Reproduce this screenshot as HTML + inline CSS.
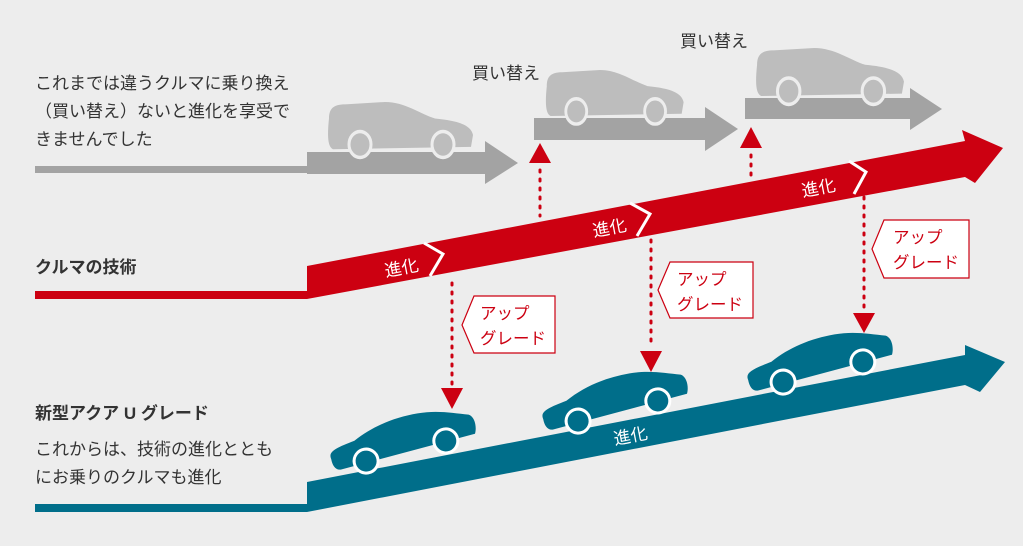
<!DOCTYPE html>
<html><head><meta charset="utf-8"><style>
html,body{margin:0;padding:0;background:#ededed;}
svg{display:block;font-family:"Liberation Sans","Noto Sans CJK JP",sans-serif;}
</style></head><body>
<svg width="1023" height="546" viewBox="0 0 1023 546" xmlns="http://www.w3.org/2000/svg">
<defs>
<g id="car">
<path d="M2,36 C0,28 8,26 28,22 C48,11 70,6 95,6 C115,6 130,12 145,16 C151,19 151,30 148,36 L10,48 C4,48 2,42 2,36 Z"/>
<circle cx="36" cy="44" r="12" stroke="#fff" stroke-width="3"/>
<circle cx="118" cy="38" r="12" stroke="#fff" stroke-width="3"/>
</g>
<g id="gcar">
<path d="M4,14 C4,6 8,2 20,2 L60,0 C80,0 95,10 110,14 C135,16 146,20 148,28 L146,38 L8,40 C3,38 2,30 4,14 Z"/>
<circle cx="35" cy="36" r="11" stroke="#ededed" stroke-width="3"/>
<circle cx="118" cy="36" r="11" stroke="#ededed" stroke-width="3"/>
</g>
</defs>
<rect width="1023" height="546" fill="#ededed"/>

<rect x="35" y="166" width="272" height="7" fill="#a3a3a3"/>
<g fill="#a3a3a3">
<polygon points="307,152 485,152 485,141 518,163 485,184 485,174 307,174"/>
<polygon points="534,118 705,118 705,107 738,129 705,151 705,140 534,140"/>
<polygon points="745,98 910,98 910,88 942,109 910,130 910,119 745,119"/>
</g>
<g fill="#bdbdbd">
<use href="#gcar" transform="translate(325,102) scale(1,1.18)"/>
<use href="#gcar" transform="translate(543,70) scale(0.95,1.15)"/>
<use href="#gcar" transform="translate(753,48) scale(1.02,1.2)"/>
</g>

<rect x="35" y="291" width="272" height="8" fill="#cc0011"/>
<polygon points="307,266 965,141 962,130 1003,148 975,183 965,177 307,299" fill="#cc0011"/>
<g fill="none" stroke="#fff" stroke-width="3">
<polyline points="424,243 443,254 430,276"/>
<polyline points="630,203 650,214 637,236"/>
<polyline points="849,161 866,172 854,194"/>
</g>
<g fill="#fff" font-size="17">
<text x="386" y="277" transform="rotate(-11 386 277)">進化</text>
<text x="594" y="237" transform="rotate(-11 594 237)">進化</text>
<text x="803" y="197" transform="rotate(-11 803 197)">進化</text>
</g>

<rect x="35" y="504" width="272" height="8" fill="#006e8a"/>
<polygon points="307,482 965,355 965,345 1005,362 980,392 965,385 307,512" fill="#006e8a"/>
<text x="615" y="445" fill="#fff" font-size="17" transform="rotate(-11 615 445)">進化</text>
<g fill="#006e8a">
<use href="#car" transform="translate(323,424) rotate(-10)"/>
<use href="#car" transform="translate(535,384) rotate(-10)"/>
<use href="#car" transform="translate(740,345) rotate(-10)"/>
</g>

<g stroke="#cc0011" stroke-width="3" stroke-dasharray="2,7" stroke-linecap="round">
<line x1="540" y1="170" x2="540" y2="216"/>
<line x1="751" y1="155" x2="751" y2="182"/>
<line x1="452" y1="283" x2="452" y2="385"/>
<line x1="651" y1="240" x2="651" y2="348"/>
<line x1="864" y1="197" x2="864" y2="310"/>
</g>
<g fill="#cc0011">
<polygon points="540,143 551,163 529,163"/>
<polygon points="751,127 762,148 740,148"/>
<polygon points="441,388 463,388 452,409"/>
<polygon points="640,351 662,351 651,372"/>
<polygon points="853,313 875,313 864,333"/>
</g>

<g fill="#fff" stroke="#cc0011" stroke-width="1.2">
<polygon points="474,296 555,296 555,353 474,353 462,325"/>
<polygon points="670,262 753,262 753,318 670,318 658,290"/>
<polygon points="884,220 969,220 969,278 884,278 872,249"/>
</g>
<g fill="#cc0011" font-size="16.5">
<text x="480" y="319">アップ</text><text x="480" y="344">グレード</text>
<text x="677" y="285">アップ</text><text x="677" y="310">グレード</text>
<text x="893" y="243">アップ</text><text x="893" y="268">グレード</text>
</g>

<g fill="#333" font-size="17">
<text x="472" y="79">買い替え</text>
<text x="680" y="47">買い替え</text>
<text x="35" y="89">これまでは違うクルマに乗り換え</text>
<text x="35" y="117">（買い替え）ないと進化を享受で</text>
<text x="35" y="145">きませんでした</text>
<text x="35" y="273" font-weight="bold">クルマの技術</text>
<text x="35" y="419" font-weight="bold">新型アクア U グレード</text>
<text x="35" y="455">これからは、技術の進化ととも</text>
<text x="35" y="483">にお乗りのクルマも進化</text>
</g>
</svg>
</body></html>
